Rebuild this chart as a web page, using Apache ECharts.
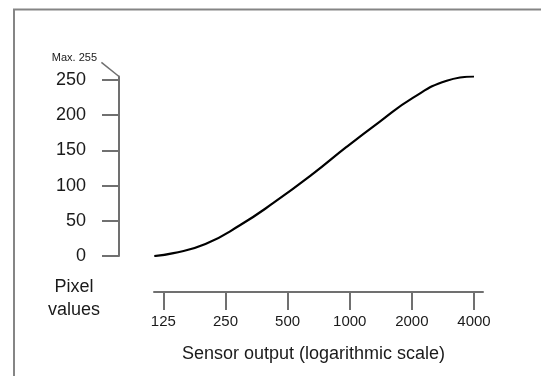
<!DOCTYPE html>
<html>
<head>
<meta charset="utf-8">
<script src="https://cdn.jsdelivr.net/npm/echarts@6.0.0/dist/echarts.min.js"></script>
<style>
  html, body { margin: 0; padding: 0; background: #fff; }
  #chart { width: 541px; height: 376px; }
</style>
</head>
<body>
<div id="chart"></div>
<script>
// sensor output (raw) and resulting pixel value
const sensorOutput = [113, 140, 200, 295, 425, 665, 965, 1400, 2030, 2950, 4000]
const pixelValues = [0, 4, 17, 44, 75, 117, 155, 191, 225, 249, 255]

const xTicks = [125, 250, 500, 1000, 2000, 4000]
const yTicks = [0, 50, 100, 150, 200, 250]
const yMax = 255

const xAxisTitle = 'Sensor output (logarithmic scale)'
const yAxisTitle = 'Pixel\nvalues'
const maxLabel = 'Max. 255'

const font = '"Liberation Sans", Arial, sans-serif'
const axisColor = '#707070'
const textColor = '#1a1a1a'

// x is drawn on a log2 scale
const log2 = v => Math.log2(v)
const xMin = log2(xTicks[0]) - 0.15
const xMax = log2(xTicks[xTicks.length - 1]) + 0.145

const gridLeft = 154
const yAxisOffset = 35

const chart = echarts.init(document.getElementById('chart'), null, { renderer: 'canvas' })

const option = {
  animation: false,
  backgroundColor: '#fff',
  grid: { left: gridLeft, right: 58, top: 76.5, bottom: 120 },
  xAxis: {
    type: 'value',
    min: xMin,
    max: xMax,
    offset: 36,
    axisLine: { onZero: false, lineStyle: { color: axisColor, width: 2 } },
    axisTick: {
      customValues: xTicks.map(log2),
      length: 18,
      lineStyle: { color: axisColor, width: 2 },
    },
    axisLabel: {
      customValues: xTicks.map(log2),
      margin: 22,
      fontSize: 15,
      fontFamily: font,
      color: textColor,
      formatter: v => String(Math.round(Math.pow(2, v))),
    },
    splitLine: { show: false },
    name: xAxisTitle,
    nameLocation: 'middle',
    nameGap: 53,
    nameTextStyle: { fontSize: 18, fontFamily: font, color: textColor, padding: [0, 10, 0, 0] },
  },
  yAxis: {
    type: 'value',
    min: 0,
    max: yMax,
    offset: yAxisOffset,
    axisLine: { show: true, onZero: false, lineStyle: { color: axisColor, width: 2 } },
    axisTick: {
      show: true,
      customValues: yTicks,
      length: 17,
      lineStyle: { color: axisColor, width: 2 },
    },
    axisLabel: {
      customValues: yTicks,
      margin: 33,
      fontSize: 18,
      fontFamily: font,
      color: textColor,
    },
    splitLine: { show: false },
  },
  series: [
    {
      type: 'line',
      data: sensorOutput.map((s, i) => [log2(s), pixelValues[i]]),
      smooth: 0.5,
      showSymbol: false,
      lineStyle: { color: '#000', width: 2.2 },
    },
  ],
}

chart.setOption(option)

// annotations: frame, y-axis title, max marker
const axisX = gridLeft - yAxisOffset
const topY = chart.convertToPixel({ yAxisIndex: 0 }, yMax)

chart.setOption({
  graphic: [
    {
      type: 'rect',
      shape: { x: 14, y: 9.5, width: 700, height: 600 },
      style: { fill: 'none', stroke: '#858585', lineWidth: 2 },
      silent: true,
    },
    {
      type: 'text',
      x: 74,
      y: 299,
      style: {
        text: yAxisTitle,
        font: '18px ' + font,
        fill: textColor,
        textAlign: 'center',
        textVerticalAlign: 'middle',
        lineHeight: 23,
      },
    },
    {
      type: 'text',
      x: 97,
      y: topY - 19,
      style: {
        text: maxLabel,
        font: '11px ' + font,
        fill: textColor,
        textAlign: 'right',
        textVerticalAlign: 'middle',
      },
    },
    {
      type: 'line',
      shape: { x1: axisX - 17.6, y1: topY - 14.2, x2: axisX, y2: topY },
      style: { stroke: axisColor, lineWidth: 1.5 },
    },
  ],
})
</script>
</body>
</html>
